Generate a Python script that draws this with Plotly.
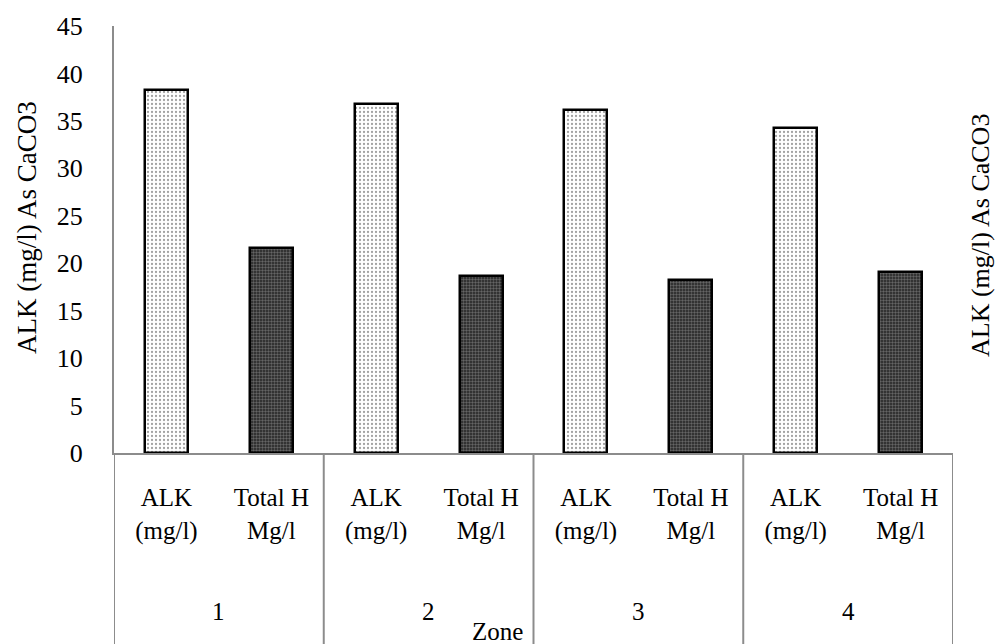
import plotly.graph_objects as go

zones = ["1", "2", "3", "4"]
params = ["ALK<br>(mg/l)", "Total H<br>Mg/l"]
alk = [38.3, 36.8, 36.2, 34.3]
total_h = [21.6, 18.7, 18.2, 19.1]
y_ticks = [0, 5, 10, 15, 20, 25, 30, 35, 40, 45]

FONT = "Liberation Serif"
W, H = 997, 644
AX_X, AX_Y, TOP, RIGHT = 114, 453, 26, 953  # pixel coords of plot area
L = AX_X
T = TOP
plot_w = RIGHT - AX_X
plot_h = AX_Y - TOP
R = W - L - plot_w
B = H - T - plot_h

alk_x = [2 * i for i in range(len(zones))]
th_x = [2 * i + 1 for i in range(len(zones))]

fig = go.Figure()
fig.add_trace(go.Bar(
    x=alk_x, y=alk, width=0.41, name="ALK",
    marker=dict(color="white", line=dict(color="black", width=2.5),
                pattern=dict(shape=".", fgcolor="#444444", bgcolor="white",
                             size=4, solidity=0.25)),
))
fig.add_trace(go.Bar(
    x=th_x, y=total_h, width=0.41, name="Total H",
    marker=dict(color="#333333", line=dict(color="black", width=2.5),
                pattern=dict(shape=".", fgcolor="#a8a8a8", bgcolor="#222222",
                             size=3, solidity=0.5)),
))

tickvals = []
ticktext = []
for i in range(len(zones)):
    tickvals += [2 * i, 2 * i + 1]
    ticktext += params

# dividers
for k in range(len(zones) + 1):
    xv = 2 * k - 0.5
    fig.add_shape(type="line", xref="x", yref="paper", x0=xv, x1=xv,
                  y0=0, y1=-(B + 10) / plot_h,
                  line=dict(color="#8c8c8c", width=2))


def px_x(px):
    return (px - AX_X) / plot_w


def px_y(py):
    return (AX_Y - py) / plot_h


for i, z in enumerate(zones):
    fig.add_annotation(x=2 * i + 0.5, xref="x", y=px_y(611), yref="paper",
                       xanchor="center", yanchor="middle",
                       text=z, showarrow=False, font=dict(family=FONT, size=25, color="black"))

fig.add_annotation(x=px_x(497), xref="paper", y=px_y(631), yref="paper",
                   xanchor="center", yanchor="middle",
                   text="Zone", showarrow=False, font=dict(family=FONT, size=25, color="black"))
fig.add_annotation(x=px_x(27), xref="paper", y=px_y(228), yref="paper",
                   xanchor="center", yanchor="middle",
                   text="ALK (mg/l) As CaCO3", textangle=-90, showarrow=False,
                   font=dict(family=FONT, size=27, color="black"))
fig.add_annotation(x=px_x(980), xref="paper", y=px_y(236), yref="paper",
                   xanchor="center", yanchor="middle",
                   text="ALK (mg/l) As CaCO3", textangle=-90, showarrow=False,
                   font=dict(family=FONT, size=26, color="black"))

fig.update_layout(
    width=W, height=H,
    margin=dict(l=L, r=R, t=T, b=B),
    paper_bgcolor="white", plot_bgcolor="white",
    showlegend=False,
    font=dict(family=FONT, size=25, color="black"),
    bargap=0,
)
fig.update_xaxes(range=[-0.5, 7.5], tickvals=tickvals, ticktext=ticktext,
                 showline=True, linecolor="#8c8c8c", linewidth=2, showgrid=False,
                 zeroline=False, ticks="", tickfont=dict(family=FONT, size=25, color="black"),
                 ticklabelstandoff=21, tickangle=0)
fig.update_yaxes(range=[0, 45], tickvals=y_ticks, showline=True, linecolor="#8c8c8c",
                 linewidth=2, showgrid=False, zeroline=False, ticks="",
                 tickfont=dict(family=FONT, size=26, color="black"), ticklabelstandoff=24)

fig.write_html(
    "out.html",
    config={"displayModeBar": False},
    post_script="document.body.style.margin='0px';document.documentElement.style.overflow='hidden';",
)
